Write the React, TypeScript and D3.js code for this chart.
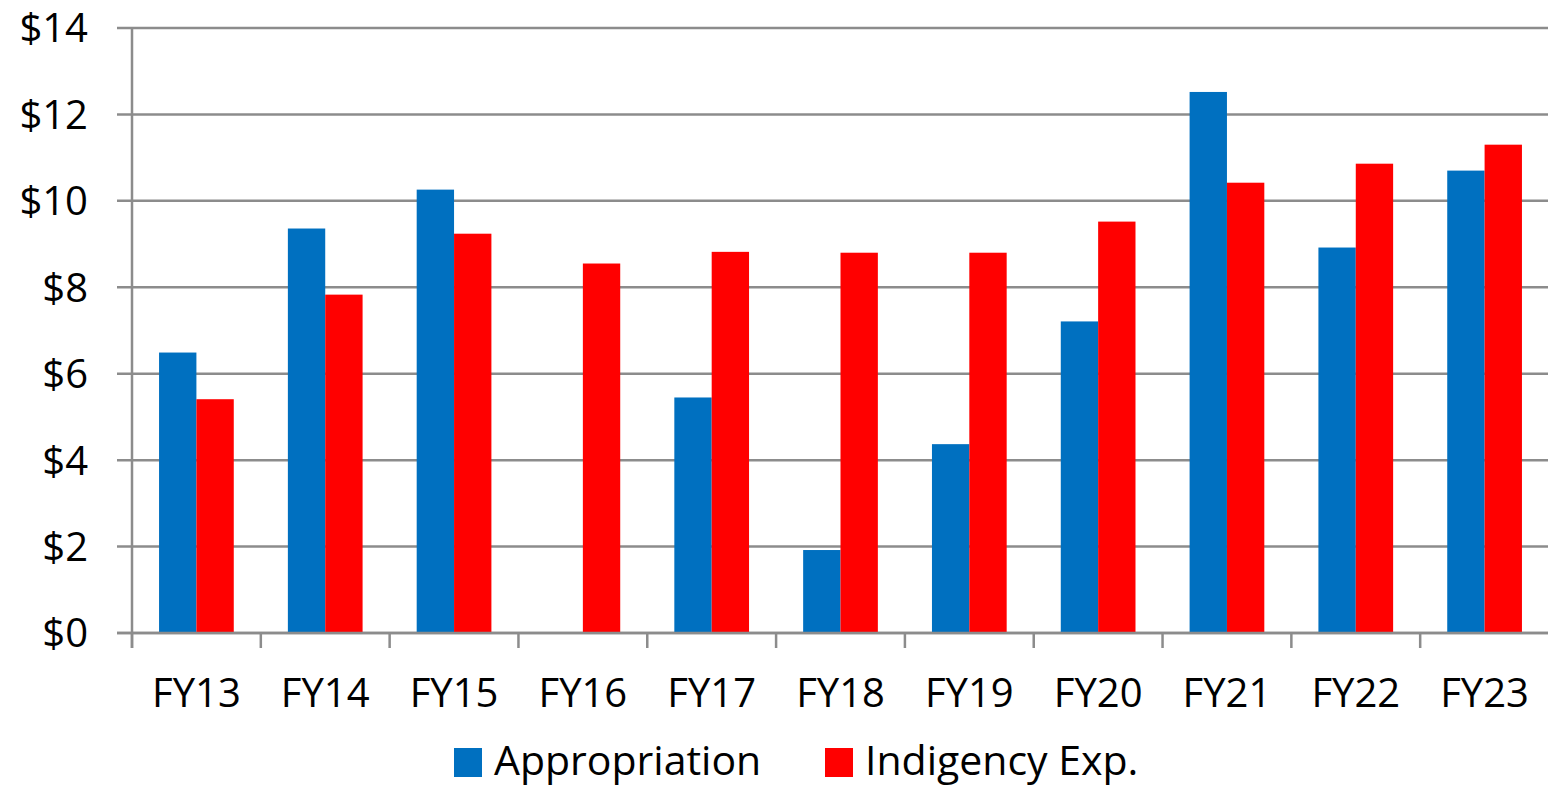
import React from "react";
import * as d3 from "d3";

const categories = ["FY13", "FY14", "FY15", "FY16", "FY17", "FY18", "FY19", "FY20", "FY21", "FY22", "FY23"];
const appropriation = [6.49, 9.36, 10.26, 0, 5.45, 1.92, 4.37, 7.21, 12.52, 8.92, 10.7];
const indigency = [5.41, 7.83, 9.24, 8.55, 8.82, 8.8, 8.8, 9.52, 10.42, 10.86, 11.3];
const seriesNames = ["Appropriation", "Indigency Exp."];
const seriesColors = ["#0070C0", "#FF0000"];
const yTicks = [0, 2, 4, 6, 8, 10, 12, 14];

const W = 1548;
const H = 786;
const left = 132;
const right = 1549;
const top = 28;
const bottom = 633;
const FONT = "'Open Sans', 'Noto Sans', sans-serif";

export default function App() {
  const x = d3.scaleBand<string>().domain(categories).range([left, right]).paddingInner(0).paddingOuter(0);
  const y = d3.scaleLinear().domain([0, 14]).range([bottom, top]);
  const bw = x.bandwidth();
  const barW = bw * 0.29;
  const sub = d3.scaleBand<number>().domain([0, 1]).range([bw / 2 - barW, bw / 2 + barW]);
  const series = [appropriation, indigency];

  return (
    <svg width={W} height={H} style={{ position: "absolute", left: 0, top: 0, background: "#fff" }}>
      {yTicks.map((t) => (
        <g key={t}>
          <line x1={left - 15} x2={right} y1={y(t)} y2={y(t)} stroke="#8c8c8c" strokeWidth={2.5} />
          <text x={88} y={y(t)} dy="0.36em" textAnchor="end" fontFamily={FONT} fontSize={40} fill="#000">
            ${t}
          </text>
        </g>
      ))}
      {series.map((vals, si) =>
        vals.map((v, i) => (
          <rect
            key={si + "-" + i}
            x={(x(categories[i]) as number) + (sub(si) as number)}
            y={y(v)}
            width={sub.bandwidth()}
            height={bottom - y(v)}
            fill={seriesColors[si]}
          />
        ))
      )}
      <line x1={left} x2={left} y1={top} y2={bottom + 15} stroke="#8c8c8c" strokeWidth={2.5} />
      <line x1={left - 15} x2={right} y1={bottom} y2={bottom} stroke="#8c8c8c" strokeWidth={2.5} />
      {categories.map((c) => (
        <line key={"t" + c} x1={x(c) as number} x2={x(c) as number} y1={bottom} y2={bottom + 15} stroke="#8c8c8c" strokeWidth={2.5} />
      ))}
      {categories.map((c) => (
        <text key={"l" + c} x={(x(c) as number) + bw / 2} y={707} textAnchor="middle" fontFamily={FONT} fontSize={40} fill="#000">
          {c}
        </text>
      ))}
      <rect x={454} y={748} width={28} height={29} fill={seriesColors[0]} />
      <text x={494} y={775} fontFamily={FONT} fontSize={41} fill="#000">{seriesNames[0]}</text>
      <rect x={825} y={748} width={28} height={29} fill={seriesColors[1]} />
      <text x={865} y={775} fontFamily={FONT} fontSize={41} fill="#000">{seriesNames[1]}</text>
    </svg>
  );
}
